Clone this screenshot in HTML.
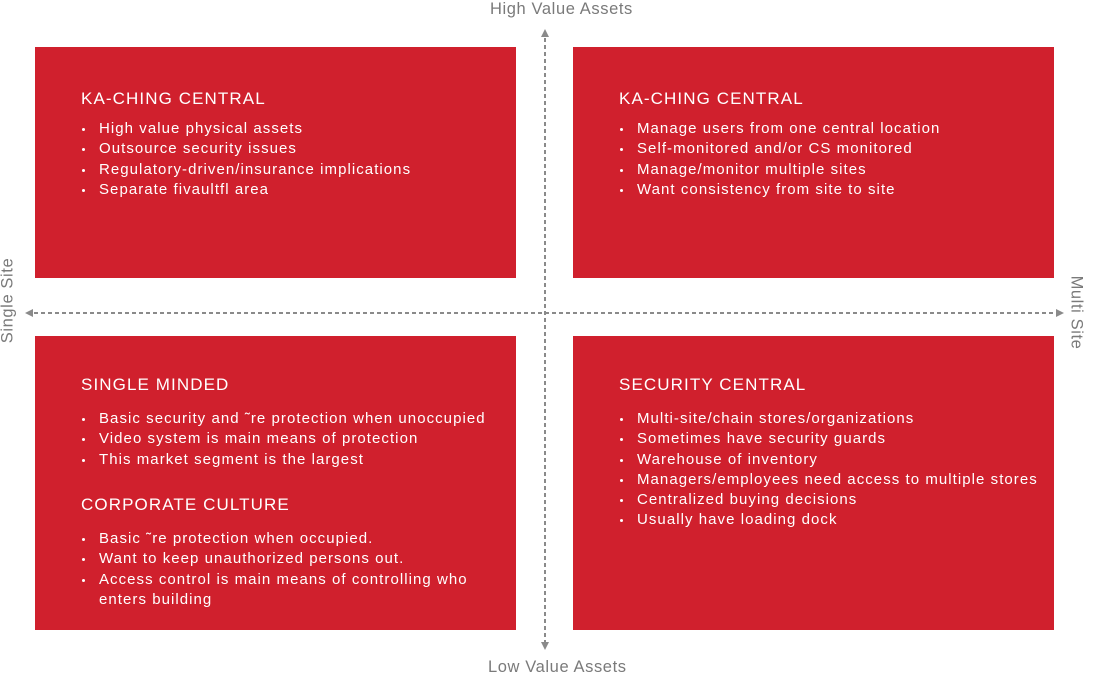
<!DOCTYPE html>
<html><head><meta charset="utf-8"><style>
body{margin:0;width:1094px;height:682px;background:#fff;position:relative;overflow:hidden;font-family:"Liberation Sans",sans-serif}
.box{position:absolute;background:#d0202d;color:#fff}
.t{position:absolute;left:46px;font-size:17px;letter-spacing:1.1px;line-height:20px;white-space:nowrap}
.b{position:absolute;left:64px;font-size:15px;letter-spacing:1.05px;line-height:20.3px;white-space:nowrap}
.b div{position:relative}
.b div:before{content:"";position:absolute;left:-17px;top:9px;width:3px;height:3px;background:#fff;border-radius:50%}
.lab{position:absolute;color:#7a7a7a;font-size:16.5px;letter-spacing:0.6px;white-space:nowrap}
</style></head><body>
<svg width="1094" height="682" style="position:absolute;left:0;top:0">
<g stroke="#8a8a8a" stroke-width="2" stroke-dasharray="4,3" fill="none">
<line x1="545" y1="38" x2="545" y2="642"/>
<line x1="34" y1="313" x2="1056" y2="313"/>
</g>
<g fill="#8a8a8a">
<polygon points="545,29 541,37 549,37"/>
<polygon points="545,650 541,642 549,642"/>
<polygon points="25,313 33,309 33,317"/>
<polygon points="1064,313 1056,309 1056,317"/>
</g>
</svg>
<div class="lab" style="left:490px;top:0px">High Value Assets</div>
<div class="lab" style="left:488px;top:658px">Low Value Assets</div>
<div class="lab" style="left:-36px;top:291px;transform:rotate(-90deg);width:88px;text-align:center">Single Site</div>
<div class="lab" style="left:1034px;top:303px;transform:rotate(90deg);width:84px;text-align:center">Multi Site</div>

<div class="box" style="left:35px;top:47px;width:481px;height:231px">
<div class="t" style="top:42px">KA-CHING CENTRAL</div>
<div class="b" style="top:72px"><div>High value physical assets</div><div>Outsource security issues</div><div>Regulatory-driven/insurance implications</div><div>Separate fivaultfl area</div></div>
</div>
<div class="box" style="left:573px;top:47px;width:481px;height:231px">
<div class="t" style="top:42px">KA-CHING CENTRAL</div>
<div class="b" style="top:72px"><div>Manage users from one central location</div><div>Self-monitored and/or CS monitored</div><div>Manage/monitor multiple sites</div><div>Want consistency from site to site</div></div>
</div>
<div class="box" style="left:35px;top:336px;width:481px;height:294px">
<div class="t" style="top:39px">SINGLE MINDED</div>
<div class="b" style="top:73px"><div>Basic security and ˜re protection when unoccupied</div><div>Video system is main means of protection</div><div>This market segment is the largest</div></div>
<div class="t" style="top:159px">CORPORATE CULTURE</div>
<div class="b" style="top:193px"><div>Basic ˜re protection when occupied.</div><div>Want to keep unauthorized persons out.</div><div>Access control is main means of controlling who<br>enters building</div></div>
</div>
<div class="box" style="left:573px;top:336px;width:481px;height:294px">
<div class="t" style="top:39px">SECURITY CENTRAL</div>
<div class="b" style="top:73px"><div>Multi-site/chain stores/organizations</div><div>Sometimes have security guards</div><div>Warehouse of inventory</div><div>Managers/employees need access to multiple stores</div><div>Centralized buying decisions</div><div>Usually have loading dock</div></div>
</div>
</body></html>
